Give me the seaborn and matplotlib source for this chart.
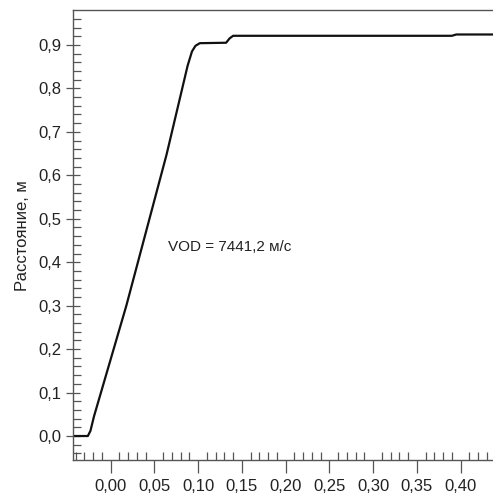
import numpy as np
import pandas as pd
import matplotlib
matplotlib.use("Agg")
import matplotlib.pyplot as plt
from matplotlib.ticker import MultipleLocator, FuncFormatter
import seaborn as sns

# time (x) and distance (y)
time = [-0.043, -0.026, -0.023, -0.019, 0.018, 0.064, 0.088, 0.093,
        0.097, 0.102, 0.132, 0.136, 0.140, 0.2, 0.3, 0.39, 0.395, 0.44]
distance = [0.0, 0.0, 0.012, 0.045, 0.3, 0.648, 0.852, 0.885,
            0.898, 0.904, 0.905, 0.915, 0.921, 0.921, 0.921, 0.921, 0.924, 0.924]
annotation = "VOD = 7441,2 м/с"
ylabel = "Расстояние, м"

df = pd.DataFrame({"t": time, "d": distance})

sns.set_theme(style="ticks")
plt.rcParams["font.family"] = ["Liberation Sans", "DejaVu Sans"]

fig = plt.figure(figsize=(4.93, 4.94), dpi=100)
ax = fig.add_axes([0.148, 0.069, 0.852, 0.910])

sns.lineplot(data=df, x="t", y="d", ax=ax, color="#111111", linewidth=1.6, sort=False)

ax.set_xlim(-0.043, 0.437)
ax.set_ylim(-0.055, 0.9795)

ax.xaxis.set_major_locator(MultipleLocator(0.05))
ax.xaxis.set_minor_locator(MultipleLocator(0.01))
ax.yaxis.set_major_locator(MultipleLocator(0.1))
ax.yaxis.set_minor_locator(MultipleLocator(0.02))
ax.xaxis.set_major_formatter(FuncFormatter(lambda v, p: f"{v:.2f}".replace(".", ",").replace("-0,00", "0,00")))
ax.yaxis.set_major_formatter(FuncFormatter(lambda v, p: f"{v:.1f}".replace(".", ",").replace("-0,0", "0,0")))

ax.tick_params(axis="both", which="major", direction="out", length=9, width=0.9,
               color="#555555", labelsize=12, labelcolor="#222222")
ax.tick_params(axis="x", which="major", pad=5)
ax.tick_params(axis="y", which="major", direction="inout", length=10, pad=3)
ax.tick_params(axis="both", which="minor", direction="in", length=6, width=0.9, color="#555555")

for s in ["left", "bottom", "top"]:
    ax.spines[s].set_color("#555555")
    ax.spines[s].set_linewidth(1.0)
ax.spines["right"].set_visible(False)

ax.set_xlabel("")
ax.set_ylabel(ylabel, fontsize=12, color="#222222", labelpad=6)

ax.text(0.066, 0.435, annotation, fontsize=11, color="#222222", va="center", ha="left")

fig.savefig("out.png", dpi=100)
